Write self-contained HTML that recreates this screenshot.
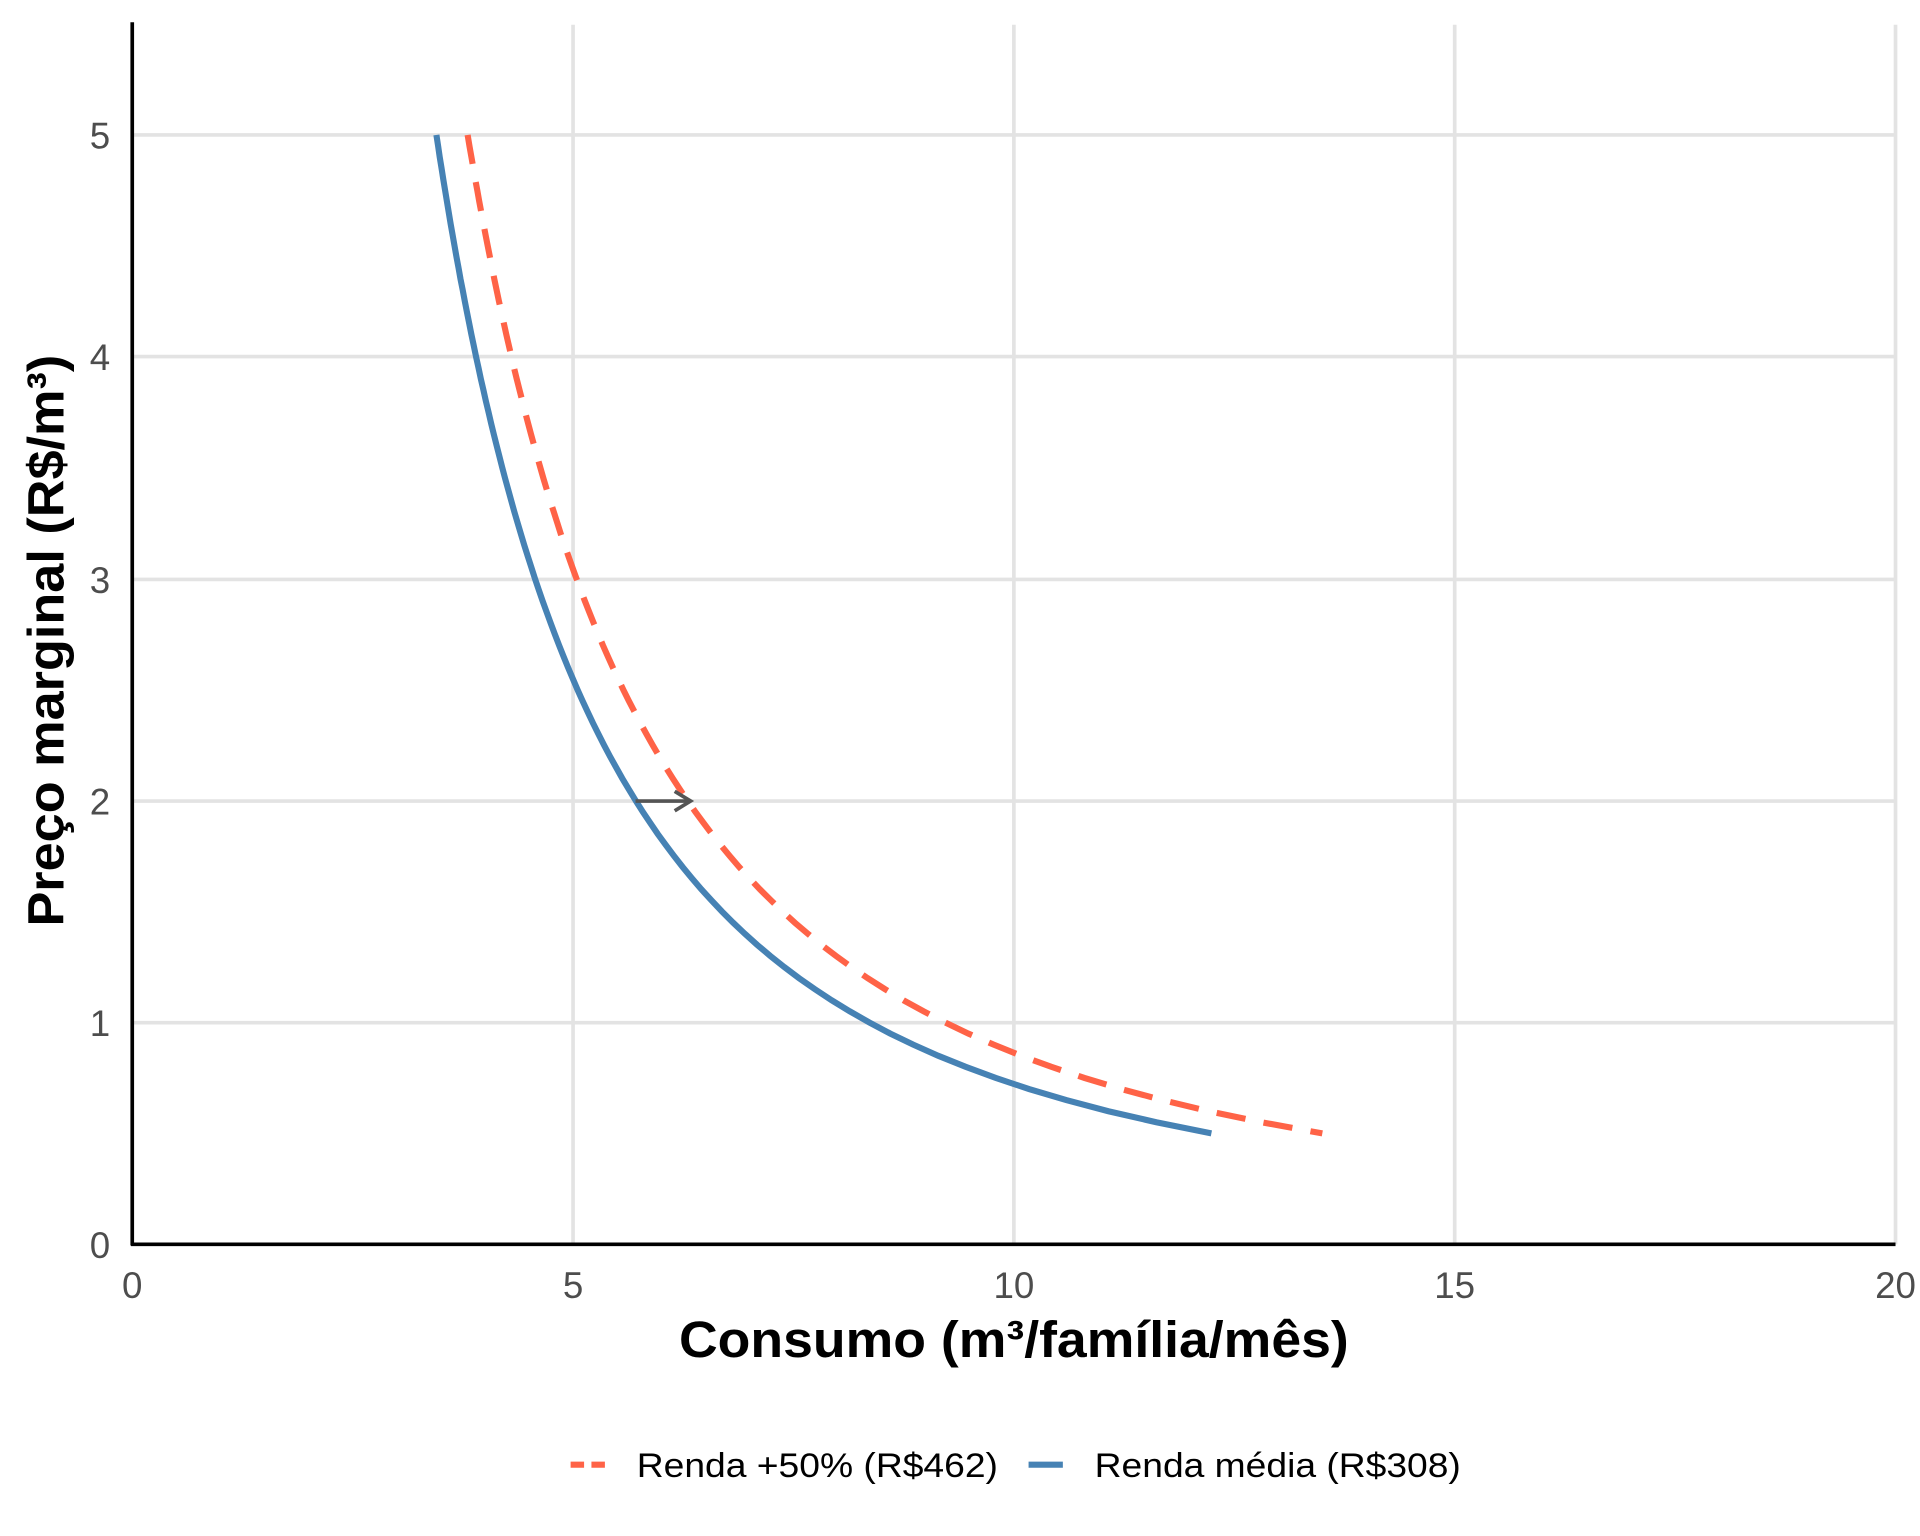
<!DOCTYPE html>
<html><head><meta charset="utf-8"><style>
html,body{margin:0;padding:0;background:#fff}
svg{display:block}
text{font-family:"Liberation Sans",sans-serif}
</style></head><body>
<svg id="s" width="1920" height="1536" viewBox="0 0 1568 1254" xmlns="http://www.w3.org/2000/svg">
<rect width="1568" height="1254" fill="#fff"/>
<g stroke="#e3e3e3" stroke-width="3">
<line x1="468" y1="20" x2="468" y2="1016"/>
<line x1="828" y1="20" x2="828" y2="1016"/>
<line x1="1188" y1="20" x2="1188" y2="1016"/>
<line x1="1548" y1="20" x2="1548" y2="1016"/>
<line x1="108" y1="835" x2="1548" y2="835"/>
<line x1="108" y1="654" x2="1548" y2="654"/>
<line x1="108" y1="473" x2="1548" y2="473"/>
<line x1="108" y1="291" x2="1548" y2="291"/>
<line x1="108" y1="110" x2="1548" y2="110"/>
</g>
<path id="red" fill="none" stroke="#ff6347" stroke-width="5" stroke-dasharray="24,15"/>
<path id="blue" fill="none" stroke="#4682b4" stroke-width="5"/>
<g stroke="#555" stroke-width="3" fill="none">
<line x1="519" y1="654" x2="563" y2="654"/>
<polyline points="551,646 564,654 551,662"/>
</g>
<g stroke="#000" stroke-width="3">
<line x1="108" y1="18" x2="108" y2="1017"/>
<line x1="107" y1="1016" x2="1548" y2="1016"/>
</g>
<g font-size="30" fill="#4d4d4d" text-anchor="end">
<text x="90" y="1027">0</text><text x="90" y="846">1</text><text x="90" y="665">2</text>
<text x="90" y="484">3</text><text x="90" y="302">4</text><text x="90" y="121">5</text>
</g>
<g font-size="30" fill="#4d4d4d" text-anchor="middle">
<text x="108" y="1060">0</text><text x="468" y="1060">5</text><text x="828" y="1060">10</text>
<text x="1188" y="1060">15</text><text x="1548" y="1060">20</text>
</g>
<text x="828" y="1108" font-size="42" font-weight="bold" text-anchor="middle" textLength="547" lengthAdjust="spacingAndGlyphs">Consumo (m³/família/mês)</text>
<text transform="translate(52,523) rotate(-90)" font-size="42" font-weight="bold" text-anchor="middle" textLength="467" lengthAdjust="spacingAndGlyphs">Preço marginal (R$/m³)</text>
<line x1="466" y1="1196" x2="494" y2="1196" stroke="#ff6347" stroke-width="5" stroke-dasharray="11,6"/>
<text x="520" y="1206" font-size="28" textLength="295" lengthAdjust="spacingAndGlyphs">Renda +50% (R$462)</text>
<line x1="840" y1="1196" x2="868" y2="1196" stroke="#4682b4" stroke-width="5"/>
<text x="894" y="1206" font-size="28" textLength="299" lengthAdjust="spacingAndGlyphs">Renda média (R$308)</text>
</svg>
<script>
function mk(k){var d="";for(var i=0;i<=90;i++){var p=5-i*0.05;var q=k*Math.pow(p,-0.55);var x=108+72*q,y=1016-181.2*p;d+=(i?"L":"M")+x.toFixed(1)+","+y.toFixed(1);}return d;}
document.getElementById("blue").setAttribute("d",mk(8.36));
document.getElementById("red").setAttribute("d",mk(9.22));
</script>
</body></html>
